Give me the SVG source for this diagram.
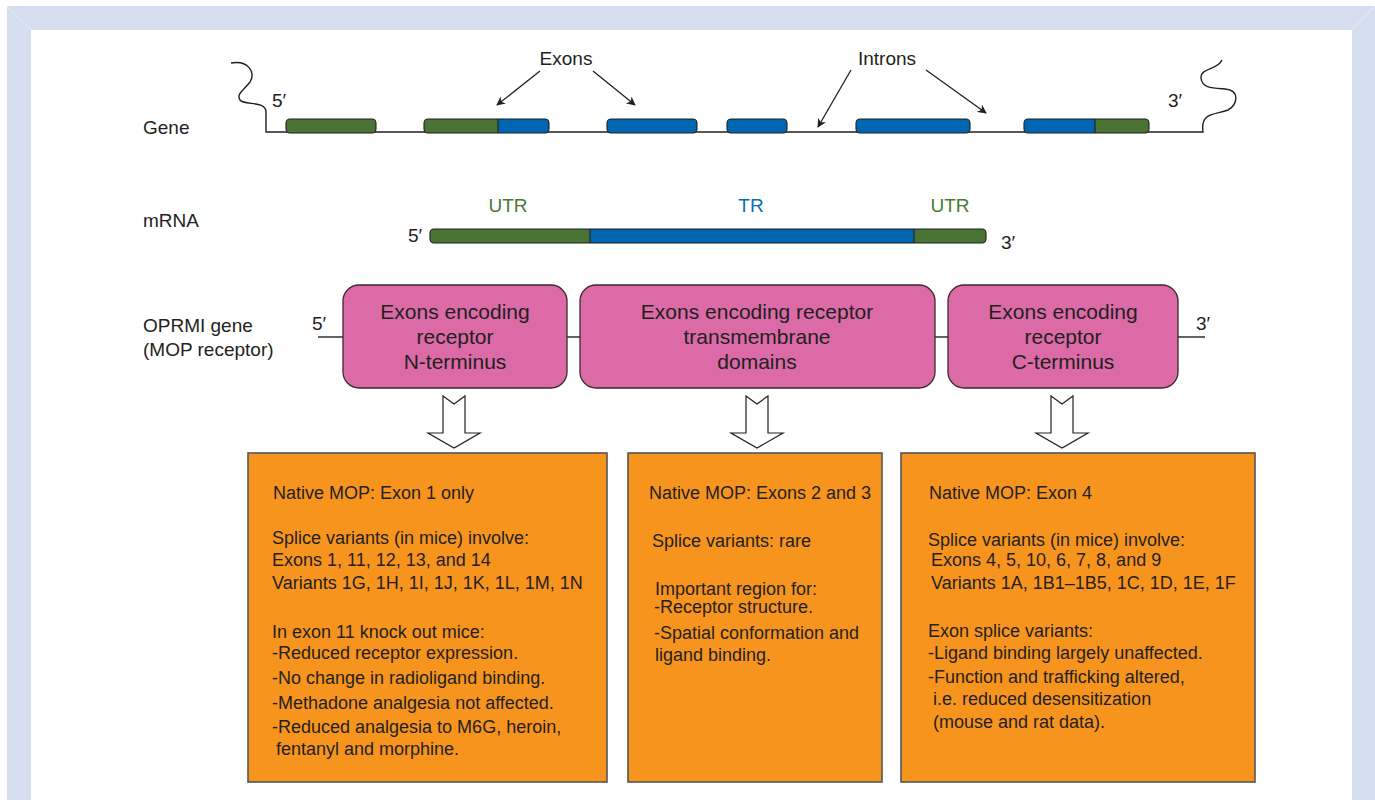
<svg xmlns="http://www.w3.org/2000/svg" width="1375" height="800" viewBox="0 0 1375 800">
<defs>
<style>
text{font-family:"Liberation Sans",Arial,sans-serif;fill:#231f20}
.lbl{font-size:19px}
.pk{font-size:21px;text-anchor:middle}
.ot{font-size:18px}
.green{fill:#4a7a33}
.blue{fill:#0a6cb5}
.gr{fill:#4a7433}
.bl{fill:#0066b2}
.ol{fill:none;stroke:#1f1f1f;stroke-width:1.1}
.pink{fill:#db6aa7;stroke:#3a2a30;stroke-width:1.3}
.orange{fill:#f7941d;stroke:#555;stroke-width:1.6}
.ln{stroke:#231f20;stroke-width:1.4;fill:none}
.ptr{stroke:#231f20;stroke-width:1.3;fill:none;marker-end:url(#ah)}
.hol{fill:#fff;stroke:#231f20;stroke-width:1.2}
.band{fill:#d5deee}
</style>
<marker id="ah" viewBox="0 0 10 10" refX="9" refY="5" markerWidth="9" markerHeight="9" markerUnits="userSpaceOnUse" orient="auto">
<path d="M0,0 L10,5 L0,10 L3,5 Z" fill="#231f20"/>
</marker>
</defs>
<rect width="1375" height="800" fill="#fff"/>
<g id="frame">
<polygon class="band" points="7,6 1375,6 1375,800 1352,800 1352,30 31,30 31,800 7,800"/>
<line x1="7" y1="6" x2="31" y2="30" stroke="#e6ecf6" stroke-width="1"/>
<line x1="1375" y1="6" x2="1352" y2="30" stroke="#e6ecf6" stroke-width="1"/>
</g>

<g id="row-labels">
<text class="lbl" x="143" y="134">Gene</text>
<text class="lbl" x="143" y="227">mRNA</text>
<text class="lbl" x="143" y="332">OPRMI gene</text>
<text class="lbl" x="143" y="356">(MOP receptor)</text>
</g>

<g id="gene">
<path class="ln" d="M231,63 C248,60 256,72 250,82 C244,90 236,94 240,100 C244,106 266,100 266,112 L266,132 L1203,132 C1200,112 1215,115 1228,110 C1238,105 1240,90 1225,89 C1212,88 1202,88 1201,78 C1200,68 1218,70 1222,60"/>
<text class="lbl" x="272" y="107">5′</text>
<text class="lbl" x="1168" y="107">3′</text>
<rect class="gr" x="286" y="119" width="90" height="14" rx="4"/>
<rect class="ol" x="286" y="119" width="90" height="14" rx="4"/>
<path class="gr" d="M498,119 H428 Q424,119 424,123 V129 Q424,133 428,133 H498 Z"/>
<path class="bl" d="M498,119 H545 Q549,119 549,123 V129 Q549,133 545,133 H498 Z"/>
<rect class="ol" x="424" y="119" width="125" height="14" rx="4"/>
<line x1="498" y1="119" x2="498" y2="133" stroke="#1f1f1f" stroke-width="1.1"/>
<rect class="bl" x="607" y="119" width="90" height="14" rx="4"/>
<rect class="ol" x="607" y="119" width="90" height="14" rx="4"/>
<rect class="bl" x="727" y="119" width="60" height="14" rx="4"/>
<rect class="ol" x="727" y="119" width="60" height="14" rx="4"/>
<rect class="bl" x="856" y="119" width="114" height="14" rx="4"/>
<rect class="ol" x="856" y="119" width="114" height="14" rx="4"/>
<path class="bl" d="M1095,119 H1028 Q1024,119 1024,123 V129 Q1024,133 1028,133 H1095 Z"/>
<path class="gr" d="M1095,119 H1145 Q1149,119 1149,123 V129 Q1149,133 1145,133 H1095 Z"/>
<rect class="ol" x="1024" y="119" width="125" height="14" rx="4"/>
<line x1="1095" y1="119" x2="1095" y2="133" stroke="#1f1f1f" stroke-width="1.1"/>
<text class="lbl" x="566" y="65" text-anchor="middle">Exons</text>
<text class="lbl" x="887" y="65" text-anchor="middle">Introns</text>
</g>

<g id="mrna">
<text class="lbl green" x="508" y="212" text-anchor="middle">UTR</text>
<text class="lbl blue" x="751" y="212" text-anchor="middle">TR</text>
<text class="lbl green" x="950" y="212" text-anchor="middle">UTR</text>
<text class="lbl" x="408" y="242">5′</text>
<text class="lbl" x="1001" y="249">3′</text>
<path class="gr" d="M590,229 H434 Q430,229 430,233 V239 Q430,243 434,243 H590 Z"/>
<rect class="bl" x="590" y="229" width="324" height="14"/>
<path class="gr" d="M914,229 H982 Q986,229 986,233 V239 Q986,243 982,243 H914 Z"/>
<rect class="ol" x="430" y="229" width="556" height="14" rx="4"/>
<line x1="590" y1="229" x2="590" y2="243" stroke="#1f1f1f" stroke-width="1.1"/>
<line x1="914" y1="229" x2="914" y2="243" stroke="#1f1f1f" stroke-width="1.1"/>
</g>

<g id="connectors">
<line class="ptr" x1="540" y1="71" x2="497" y2="105"/>
<line class="ptr" x1="593" y1="71" x2="635" y2="105"/>
<line class="ptr" x1="851" y1="70" x2="818" y2="127"/>
<line class="ptr" x1="926" y1="70" x2="986" y2="113"/>
<line class="ln" x1="318" y1="337" x2="343" y2="337"/>
<line class="ln" x1="567" y1="337" x2="580" y2="337"/>
<line class="ln" x1="935" y1="337" x2="948" y2="337"/>
<line class="ln" x1="1178" y1="337" x2="1205" y2="337"/>
<polygon class="hol" points="443,396 454,404 465,396 465,433 480,433 454,448 428,433 443,433"/>
<polygon class="hol" points="746,396 757,404 768,396 768,433 783,433 757,448 731,433 746,433"/>
<polygon class="hol" points="1051,396 1062,404 1073,396 1073,433 1088,433 1062,448 1036,433 1051,433"/>
</g>

<g id="oprm-ends">
<text class="lbl" x="312" y="330">5′</text>
<text class="lbl" x="1196" y="330">3′</text>
</g>

<g id="n-terminus">
<rect class="pink" x="343" y="285" width="224" height="103" rx="16"/>
<text class="pk" x="455" y="319">Exons encoding</text>
<text class="pk" x="455" y="344">receptor</text>
<text class="pk" x="455" y="369">N-terminus</text>
</g>
<g id="transmembrane">
<rect class="pink" x="580" y="285" width="355" height="103" rx="16"/>
<text class="pk" x="757" y="319">Exons encoding receptor</text>
<text class="pk" x="757" y="344">transmembrane</text>
<text class="pk" x="757" y="369">domains</text>
</g>
<g id="c-terminus">
<rect class="pink" x="948" y="285" width="230" height="103" rx="16"/>
<text class="pk" x="1063" y="319">Exons encoding</text>
<text class="pk" x="1063" y="344">receptor</text>
<text class="pk" x="1063" y="369">C-terminus</text>
</g>

<g id="box-n">
<rect class="orange" x="248" y="453" width="359" height="329"/>
<text class="ot" x="273" y="499">Native MOP: Exon 1 only</text>
<text class="ot" x="272" y="544">Splice variants (in mice) involve:</text>
<text class="ot" x="272" y="566">Exons 1, 11, 12, 13, and 14</text>
<text class="ot" x="272" y="589">Variants 1G, 1H, 1I, 1J, 1K, 1L, 1M, 1N</text>
<text class="ot" x="272" y="638">In exon 11 knock out mice:</text>
<text class="ot" x="272" y="659">-Reduced receptor expression.</text>
<text class="ot" x="272" y="684">-No change in radioligand binding.</text>
<text class="ot" x="272" y="709">-Methadone analgesia not affected.</text>
<text class="ot" x="272" y="733">-Reduced analgesia to M6G, heroin,</text>
<text class="ot" x="276" y="755">fentanyl and morphine.</text>
</g>
<g id="box-tm">
<rect class="orange" x="628" y="453" width="254" height="329"/>
<text class="ot" x="649" y="499">Native MOP: Exons 2 and 3</text>
<text class="ot" x="652" y="547">Splice variants: rare</text>
<text class="ot" x="655" y="595">Important region for:</text>
<text class="ot" x="654" y="613">-Receptor structure.</text>
<text class="ot" x="654" y="639">-Spatial conformation and</text>
<text class="ot" x="655" y="661">ligand binding.</text>
</g>
<g id="box-c">
<rect class="orange" x="901" y="453" width="354" height="329"/>
<text class="ot" x="929" y="499">Native MOP: Exon 4</text>
<text class="ot" x="928" y="546">Splice variants (in mice) involve:</text>
<text class="ot" x="931" y="566">Exons 4, 5, 10, 6, 7, 8, and 9</text>
<text class="ot" x="931" y="589">Variants 1A, 1B1–1B5, 1C, 1D, 1E, 1F</text>
<text class="ot" x="928" y="637">Exon splice variants:</text>
<text class="ot" x="928" y="659">-Ligand binding largely unaffected.</text>
<text class="ot" x="928" y="683">-Function and trafficking altered,</text>
<text class="ot" x="933" y="705">i.e. reduced desensitization</text>
<text class="ot" x="933" y="728">(mouse and rat data).</text>
</g>
</svg>
